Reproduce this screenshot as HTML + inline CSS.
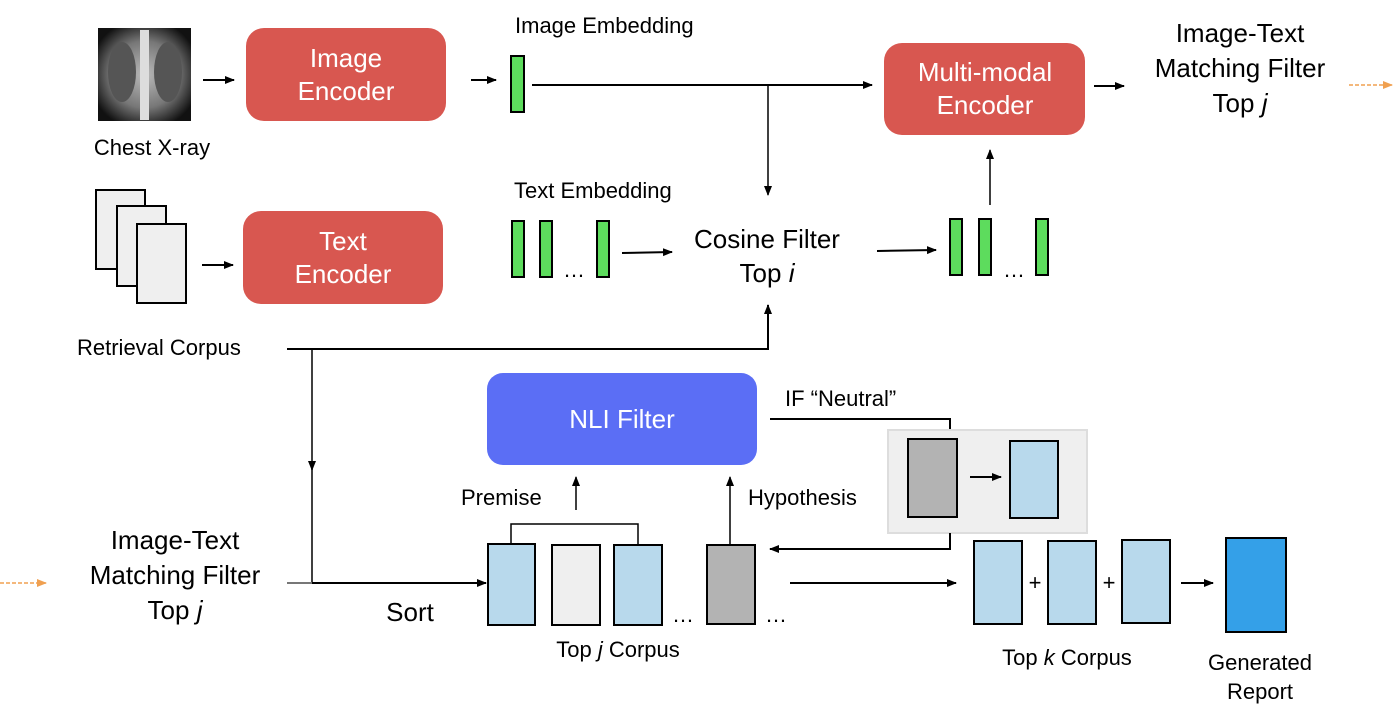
<!DOCTYPE html>
<html><head><meta charset="utf-8"><style>
body{margin:0;background:#fff;}
svg{display:block;font-family:"Liberation Sans",sans-serif;}
</style></head><body>
<svg width="1396" height="716" viewBox="0 0 1396 716" xmlns="http://www.w3.org/2000/svg">
<defs>
<marker id="a" markerWidth="10" markerHeight="10" refX="9" refY="5" orient="auto" markerUnits="userSpaceOnUse"><path d="M0,1 L10,5 L0,9 z" fill="#000"/></marker>
<marker id="o" markerWidth="10" markerHeight="10" refX="9" refY="5" orient="auto" markerUnits="userSpaceOnUse"><path d="M0,1 L10,5 L0,9 z" fill="#f0a050"/></marker>
<radialGradient id="xr" cx="0.5" cy="0.5" r="0.6"><stop offset="0" stop-color="#bbb"/><stop offset="0.6" stop-color="#777"/><stop offset="1" stop-color="#111"/></radialGradient>
</defs>
<g stroke="#000" stroke-width="2" fill="none">
<rect x="98" y="28" width="93" height="93" fill="url(#xr)" stroke="none"/>
<rect x="140" y="30" width="9" height="90" fill="#ddd" stroke="none"/>
<ellipse cx="122" cy="72" rx="14" ry="30" fill="#555" stroke="none"/>
<ellipse cx="168" cy="72" rx="14" ry="30" fill="#555" stroke="none"/>
<line x1="203" y1="80" x2="234" y2="80" marker-end="url(#a)"/>
<line x1="202" y1="265" x2="233" y2="265" marker-end="url(#a)"/>
<rect x="96" y="190" width="49" height="79" fill="#efefef"/>
<rect x="117" y="206" width="49" height="80" fill="#efefef"/>
<rect x="137" y="224" width="49" height="79" fill="#efefef"/>
<line x1="471" y1="80" x2="496" y2="80" marker-end="url(#a)"/>
<rect x="511" y="56" width="13" height="56" fill="#5ddc5d"/>
<line x1="532" y1="85" x2="872" y2="85" marker-end="url(#a)"/>
<line x1="768" y1="85" x2="768" y2="195" stroke-width="1.5" marker-end="url(#a)"/>
<rect x="512" y="221" width="12" height="56" fill="#5ddc5d"/>
<rect x="540" y="221" width="12" height="56" fill="#5ddc5d"/>
<rect x="597" y="221" width="12" height="56" fill="#5ddc5d"/>
<line x1="622" y1="253" x2="672" y2="252" marker-end="url(#a)"/>
<line x1="877" y1="251" x2="936" y2="250" marker-end="url(#a)"/>
<rect x="950" y="219" width="12" height="56" fill="#5ddc5d"/>
<rect x="979" y="219" width="12" height="56" fill="#5ddc5d"/>
<rect x="1036" y="219" width="12" height="56" fill="#5ddc5d"/>
<line x1="990" y1="205" x2="990" y2="150" stroke-width="1.5" marker-end="url(#a)"/>
<line x1="1094" y1="86" x2="1124" y2="86" marker-end="url(#a)"/>
<line x1="1349" y1="85" x2="1392" y2="85" stroke="#f0a050" stroke-width="1.5" stroke-dasharray="4,2" marker-end="url(#o)"/>
<polyline points="287,349 768,349 768,305" marker-end="url(#a)"/>
<line x1="312" y1="349" x2="312" y2="470" stroke-width="1.5" marker-end="url(#a)"/>
<line x1="312" y1="465" x2="312" y2="583" stroke-width="1.5"/>
<line x1="287" y1="583" x2="312" y2="583" stroke="#777"/>
<line x1="312" y1="583" x2="486" y2="583" marker-end="url(#a)"/>
<line x1="0" y1="583" x2="46" y2="583" stroke="#f0a050" stroke-width="1.5" stroke-dasharray="4,2" marker-end="url(#o)"/>
<rect x="488" y="544" width="47" height="81" fill="#b8d9ec"/>
<rect x="552" y="545" width="48" height="80" fill="#efefef"/>
<rect x="614" y="545" width="48" height="80" fill="#b8d9ec"/>
<rect x="707" y="545" width="48" height="79" fill="#b3b3b3"/>
<polyline points="511,545 511,524 638,524 638,545" stroke-width="1.5"/>
<line x1="576" y1="510" x2="576" y2="477" stroke-width="1.5" marker-end="url(#a)"/>
<line x1="730" y1="544" x2="730" y2="477" stroke-width="1.5" marker-end="url(#a)"/>
<polyline points="770,419 950,419 950,442"/>
<rect x="888" y="430" width="199" height="103" fill="#efefef" stroke="#ddd"/>
<rect x="908" y="439" width="49" height="78" fill="#b3b3b3"/>
<line x1="970" y1="477" x2="1001" y2="477" marker-end="url(#a)"/>
<rect x="1010" y="441" width="48" height="77" fill="#b8d9ec"/>
<polyline points="950,533 950,549 770,549" marker-end="url(#a)"/>
<line x1="790" y1="583" x2="956" y2="583" marker-end="url(#a)"/>
<rect x="974" y="541" width="48" height="83" fill="#b8d9ec"/>
<rect x="1048" y="541" width="48" height="83" fill="#b8d9ec"/>
<rect x="1122" y="540" width="48" height="83" fill="#b8d9ec"/>
<line x1="1181" y1="583" x2="1213" y2="583" marker-end="url(#a)"/>
<rect x="1226" y="538" width="60" height="94" fill="#34a0e8"/>
</g>
<rect x="246" y="28" width="200" height="93" rx="18" fill="#d85750"/>
<rect x="243" y="211" width="200" height="93" rx="18" fill="#d85750"/>
<rect x="884" y="43" width="201" height="92" rx="18" fill="#d85750"/>
<rect x="487" y="373" width="270" height="92" rx="16" fill="#5b6ef5"/>
<g fill="#fff" font-size="26" text-anchor="middle">
<text x="346" y="67">Image</text><text x="346" y="100">Encoder</text>
<text x="343" y="250">Text</text><text x="343" y="283">Encoder</text>
<text x="985" y="81">Multi-modal</text><text x="985" y="114">Encoder</text>
<text x="622" y="428">NLI Filter</text>
</g>
<g fill="#000" font-size="22">
<text x="152" y="155" text-anchor="middle">Chest X-ray</text>
<text x="77" y="355">Retrieval Corpus</text>
<text x="515" y="33">Image Embedding</text>
<text x="514" y="198">Text Embedding</text>
<text x="563" y="277">…</text>
<text x="1003" y="277">…</text>
<text x="672" y="622">…</text>
<text x="765" y="622">…</text>
<text x="461" y="505">Premise</text>
<text x="748" y="505">Hypothesis</text>
<text x="785" y="406">IF “Neutral”</text>
<text x="618" y="657" text-anchor="middle">Top <tspan font-style="italic">j</tspan> Corpus</text>
<text x="1067" y="665" text-anchor="middle">Top <tspan font-style="italic">k</tspan> Corpus</text>
<text x="1260" y="670" text-anchor="middle">Generated</text>
<text x="1260" y="699" text-anchor="middle">Report</text>
<text x="1035" y="590" text-anchor="middle">+</text>
<text x="1109" y="590" text-anchor="middle">+</text>
</g>
<g fill="#000" font-size="26" text-anchor="middle">
<text x="767" y="248">Cosine Filter</text>
<text x="767" y="282">Top <tspan font-style="italic">i</tspan></text>
<text x="1240" y="42">Image-Text</text>
<text x="1240" y="77">Matching Filter</text>
<text x="1240" y="112">Top <tspan font-style="italic">j</tspan></text>
<text x="175" y="549">Image-Text</text>
<text x="175" y="584">Matching Filter</text>
<text x="175" y="619">Top <tspan font-style="italic">j</tspan></text>
<text x="410" y="621">Sort</text>
</g>
</svg>
</body></html>
